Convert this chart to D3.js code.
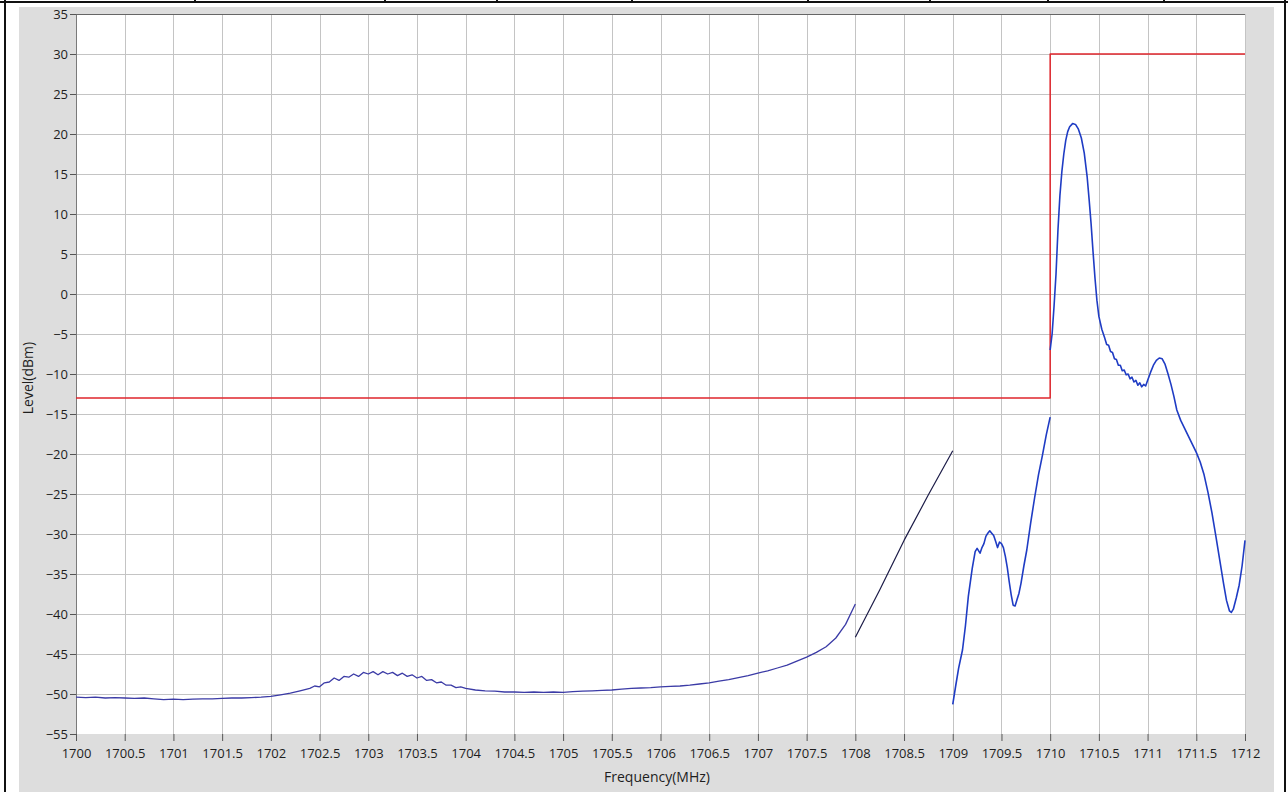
<!DOCTYPE html>
<html>
<head>
<meta charset="utf-8">
<script src="https://cdn.jsdelivr.net/npm/d3@7"></script>
<style>
  html, body { margin: 0; padding: 0; background: #ffffff; }
  svg { display: block; }
  text { font-family: "Open Sans", "Noto Sans", sans-serif; fill: #1e1e1e; }
</style>
</head>
<body>
<svg id="chart" width="1288" height="792"></svg>
<script>
// Axis ticks
const xTicks = [1700, 1700.5, 1701, 1701.5, 1702, 1702.5, 1703, 1703.5, 1704, 1704.5, 1705, 1705.5,
                1706, 1706.5, 1707, 1707.5, 1708, 1708.5, 1709, 1709.5, 1710, 1710.5, 1711, 1711.5, 1712];
const yTicks = [35, 30, 25, 20, 15, 10, 5, 0, -5, -10, -15, -20, -25, -30, -35, -40, -45, -50, -55];

// Spectral mask (limit line), MHz / dBm
const limitFreq  = [1700, 1710, 1710, 1712];
const limitLevel = [-13, -13, 30, 30];

// Measured trace, 1700 - 1708 MHz: noise floor with the small hump near 1703 MHz
const floorTrace = [
  [1700.0,-50.4],[1700.1,-50.45],[1700.2,-50.4],[1700.3,-50.5],[1700.4,-50.45],[1700.5,-50.5],
  [1700.6,-50.55],[1700.7,-50.5],[1700.8,-50.6],[1700.9,-50.7],[1701.0,-50.65],[1701.1,-50.7],
  [1701.2,-50.65],[1701.3,-50.6],[1701.4,-50.6],[1701.5,-50.55],[1701.6,-50.5],[1701.7,-50.5],
  [1701.8,-50.45],[1701.9,-50.4],[1702.0,-50.3],[1702.1,-50.1],[1702.2,-49.9],[1702.3,-49.6],
  [1702.4,-49.3],[1702.45,-49.0],[1702.5,-49.1],[1702.55,-48.6],[1702.6,-48.5],[1702.65,-48.0],
  [1702.7,-48.3],[1702.75,-47.8],[1702.8,-47.9],[1702.85,-47.5],[1702.9,-47.8],[1702.95,-47.3],
  [1703.0,-47.5],[1703.05,-47.2],[1703.1,-47.6],[1703.15,-47.2],[1703.2,-47.5],[1703.25,-47.3],
  [1703.3,-47.7],[1703.35,-47.4],[1703.4,-47.8],[1703.45,-47.6],[1703.5,-48.0],[1703.55,-47.8],
  [1703.6,-48.3],[1703.65,-48.2],[1703.7,-48.6],[1703.75,-48.5],[1703.8,-48.9],[1703.85,-48.9],
  [1703.9,-49.2],[1703.95,-49.1],[1704.0,-49.3],[1704.1,-49.5],[1704.2,-49.6],[1704.3,-49.65],
  [1704.4,-49.75],[1704.5,-49.75],[1704.6,-49.8],[1704.7,-49.75],[1704.8,-49.8],[1704.9,-49.75],
  [1705.0,-49.8],[1705.1,-49.7],[1705.2,-49.65],[1705.3,-49.6],[1705.4,-49.55],[1705.5,-49.5],
  [1705.6,-49.4],[1705.7,-49.3],[1705.8,-49.25],[1705.9,-49.2],[1706.0,-49.1],[1706.1,-49.05],
  [1706.2,-49.0],[1706.3,-48.9],[1706.4,-48.75],[1706.5,-48.6],[1706.6,-48.4],[1706.7,-48.2],
  [1706.8,-47.95],[1706.9,-47.7],[1707.0,-47.4],[1707.1,-47.1],[1707.2,-46.75],[1707.3,-46.4],
  [1707.4,-45.9],[1707.5,-45.4],[1707.6,-44.8],[1707.7,-44.1],[1707.8,-43.0],[1707.9,-41.3],
  [1708.0,-38.75]
];

// 1708 - 1709 MHz sweep segment
const sweepTrace = [
  [1708.0,-42.9],[1708.25,-37.0],[1708.5,-30.8],[1708.75,-25.1],[1709.0,-19.6]
];

// 1709 - 1710 MHz: lower adjacent emission
const lowerTrace = [
  [1709.0,-51.3],[1709.03,-49.0],[1709.06,-46.8],[1709.1,-44.5],[1709.13,-41.5],[1709.16,-37.8],
  [1709.2,-34.3],[1709.23,-32.2],[1709.25,-31.8],[1709.28,-32.4],[1709.3,-31.7],[1709.32,-31.2],
  [1709.34,-30.3],[1709.36,-29.9],[1709.38,-29.6],[1709.4,-29.9],[1709.42,-30.2],[1709.44,-30.9],
  [1709.46,-31.7],[1709.48,-31.0],[1709.5,-31.2],[1709.52,-31.7],[1709.54,-32.8],[1709.56,-34.2],
  [1709.58,-36.0],[1709.6,-37.6],[1709.62,-38.9],[1709.64,-39.0],[1709.66,-38.2],[1709.68,-37.4],
  [1709.7,-36.2],[1709.73,-34.0],[1709.76,-32.0],[1709.8,-28.6],[1709.84,-25.5],[1709.88,-22.6],
  [1709.92,-20.2],[1709.96,-17.6],[1710.0,-15.4]
];

// 1710 - 1712 MHz: carrier and upper shoulder
const carrierTrace = [
  [1710.0,-7.0],[1710.02,-5.0],[1710.04,-1.5],[1710.06,2.5],[1710.08,8.0],[1710.1,12.3],
  [1710.12,15.3],[1710.14,17.5],[1710.16,19.2],[1710.18,20.3],[1710.2,20.9],[1710.23,21.3],
  [1710.26,21.2],[1710.29,20.6],[1710.32,19.5],[1710.35,17.6],[1710.38,14.6],[1710.4,11.8],
  [1710.42,8.8],[1710.44,5.3],[1710.46,2.0],[1710.48,-0.8],[1710.5,-2.8],[1710.53,-4.4],
  [1710.56,-5.5],[1710.58,-6.3],[1710.6,-6.4],[1710.62,-7.2],[1710.64,-7.3],[1710.66,-8.1],
  [1710.68,-8.2],[1710.7,-8.9],[1710.72,-8.9],[1710.74,-9.6],[1710.76,-9.5],[1710.78,-10.1],
  [1710.8,-10.0],[1710.82,-10.6],[1710.84,-10.4],[1710.86,-11.0],[1710.88,-10.8],[1710.9,-11.4],
  [1710.92,-11.1],[1710.94,-11.6],[1710.96,-11.3],[1710.98,-11.5],
  [1711.0,-10.8],[1711.03,-9.8],[1711.06,-8.9],[1711.09,-8.3],[1711.12,-8.0],[1711.15,-8.1],
  [1711.18,-8.8],[1711.21,-10.0],[1711.24,-11.3],[1711.27,-12.8],[1711.3,-14.5],[1711.34,-15.8],
  [1711.38,-16.8],[1711.42,-17.8],[1711.46,-18.8],[1711.5,-19.8],[1711.54,-21.0],[1711.58,-22.6],
  [1711.62,-24.8],[1711.66,-27.3],[1711.7,-30.2],[1711.74,-33.2],[1711.78,-36.2],[1711.81,-38.3],
  [1711.84,-39.6],[1711.86,-39.8],[1711.88,-39.4],[1711.91,-38.0],[1711.94,-36.4],[1711.97,-34.0],
  [1712.0,-30.8]
];

const svg = d3.select("#chart");
const W = 1288, H = 792;
const plot = { left: 76, top: 14, right: 1245, bottom: 734 };

const x = d3.scaleLinear().domain([1700, 1712]).range([plot.left, plot.right]);
const y = d3.scaleLinear().domain([-55, 35]).range([plot.bottom, plot.top]);

// Outer frame and header strip
svg.append("rect").attr("x", 19).attr("y", 7).attr("width", 1255).attr("height", H - 7)
  .attr("fill", "#dddddd");
svg.append("rect").attr("x", 0).attr("y", 1).attr("width", W).attr("height", 2).attr("fill", "#111");
svg.append("rect").attr("x", 4).attr("y", 0).attr("width", 2).attr("height", H).attr("fill", "#111");
svg.append("rect").attr("x", 1284).attr("y", 0).attr("width", 2).attr("height", H).attr("fill", "#111");
[194, 384, 496, 631, 807, 929, 1047, 1163].forEach(px => {
  svg.append("rect").attr("x", px).attr("y", 0).attr("width", 2).attr("height", 3).attr("fill", "#111");
});

// Plot area
svg.append("rect").attr("x", plot.left).attr("y", plot.top)
  .attr("width", plot.right - plot.left).attr("height", plot.bottom - plot.top)
  .attr("fill", "#ffffff");

// Grid
const grid = svg.append("g").attr("shape-rendering", "crispEdges");
grid.selectAll("line.v").data(xTicks.slice(1)).join("line")
  .attr("x1", d => Math.round(x(d)) + 0.5).attr("x2", d => Math.round(x(d)) + 0.5)
  .attr("y1", plot.top).attr("y2", plot.bottom)
  .attr("stroke", "#c4c4c4").attr("stroke-width", 1);
grid.selectAll("line.h").data(yTicks.slice(1, -1)).join("line")
  .attr("x1", plot.left).attr("x2", plot.right)
  .attr("y1", d => Math.round(y(d)) + 0.5).attr("y2", d => Math.round(y(d)) + 0.5)
  .attr("stroke", "#c4c4c4").attr("stroke-width", 1);

// Plot border (left and top)
svg.append("line").attr("x1", plot.left + 0.5).attr("x2", plot.left + 0.5)
  .attr("y1", plot.top).attr("y2", plot.bottom + 1).attr("stroke", "#7a7a7a");
svg.append("line").attr("x1", plot.left).attr("x2", plot.right)
  .attr("y1", plot.top + 0.5).attr("y2", plot.top + 0.5).attr("stroke", "#666");

// Axes
const yAxis = d3.axisLeft(y).tickValues(yTicks).tickSize(6).tickPadding(2).tickFormat(d3.format("d"));
const gy = svg.append("g").attr("transform", `translate(${plot.left},0)`).call(yAxis);
gy.select(".domain").remove();
gy.selectAll(".tick line").attr("stroke", "#555");
gy.selectAll(".tick text").style("font-size", "13px").attr("fill", "#1e1e1e");

const xAxis = d3.axisBottom(x).tickValues(xTicks).tickSize(7).tickPadding(8).tickFormat(d => String(d));
const gx = svg.append("g").attr("transform", `translate(0,${plot.bottom})`).call(xAxis);
gx.select(".domain").remove();
gx.selectAll(".tick line").attr("stroke", "#555");
gx.selectAll(".tick text").style("font-size", "13px").attr("fill", "#1e1e1e");

// Axis titles
svg.append("text").attr("x", 657).attr("y", 782).attr("text-anchor", "middle")
  .style("font-size", "14px").text("Frequency(MHz)");
svg.append("text").attr("transform", "translate(33,378) rotate(-90)").attr("text-anchor", "middle")
  .style("font-size", "14px").text("Level(dBm)");

// Traces
const line = d3.line().x(d => x(d[0])).y(d => y(d[1]));
const traces = svg.append("g").attr("fill", "none").attr("stroke-linejoin", "round");

traces.append("path").datum(limitFreq.map((f, i) => [f, limitLevel[i]]))
  .attr("d", line).attr("stroke", "#e0262c").attr("stroke-width", 1.5);

traces.append("path").datum(floorTrace).attr("d", line)
  .attr("stroke", "#3b3ba6").attr("stroke-width", 1.3);
traces.append("path").datum(sweepTrace).attr("d", line)
  .attr("stroke", "#1c1c48").attr("stroke-width", 1.2);
traces.append("path").datum(lowerTrace).attr("d", line)
  .attr("stroke", "#1f3cc4").attr("stroke-width", 1.6);
traces.append("path").datum(carrierTrace).attr("d", line)
  .attr("stroke", "#1f3cc4").attr("stroke-width", 1.6);
</script>
</body>
</html>
